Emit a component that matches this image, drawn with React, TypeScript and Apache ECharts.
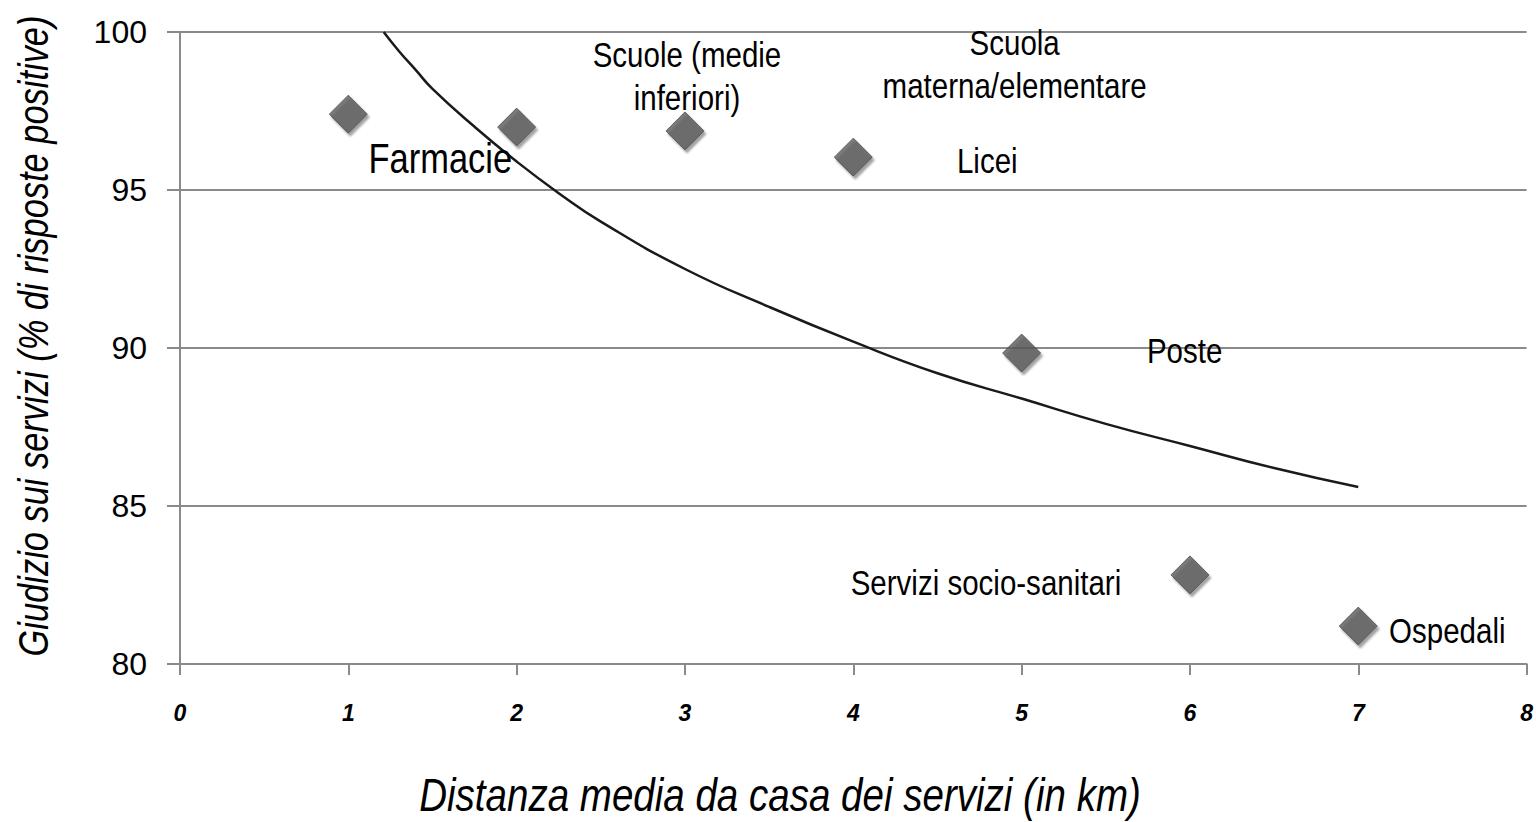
import React, { useEffect, useRef } from "react";
import * as echarts from "echarts";

const names = [
  "Farmacie",
  "Scuola\nmaterna/elementare",
  "Scuole (medie\ninferiori)",
  "Licei",
  "Poste",
  "Servizi socio-sanitari",
  "Ospedali",
];
const distances = [1, 2, 3, 4, 5, 6, 7];
const ratings = [97.4, 96.99, 96.87, 96.04, 89.84, 82.82, 81.2];

const trendX = [1.21, 1.3, 1.4, 1.5, 1.75, 2, 2.25, 2.5, 3, 3.5, 4, 4.5, 5, 5.5, 6, 6.5, 7];
const trendY = [100, 99.4, 98.8, 98.2, 97.0, 95.9, 94.9, 94.0, 92.5, 91.3, 90.2, 89.2, 88.4, 87.6, 86.9, 86.2, 85.6];

const xTicks = [0, 1, 2, 3, 4, 5, 6, 7, 8];
const yTicks = [80, 85, 90, 95, 100];

const xTitle = "Distanza media da casa dei servizi (in km)";
const yTitle = "Giudizio sui servizi (% di risposte positive)";

// label layout (pixel offsets from each marker centre)
const labelOffsets: [number, number][] = [
  [92, 44],
  [498, -63],
  [2, -55],
  [134, 3],
  [163, -3],
  [-204, 8],
  [89, 4],
];
const labelSizes = [42, 36, 36, 36, 36, 36, 36];

const FONT = "'Liberation Sans', Arial, sans-serif";
const NARROW = 0.82;

export default function App() {
  const ref = useRef<HTMLDivElement>(null);
  useEffect(() => {
    if (!ref.current) return;
    const chart = echarts.init(ref.current, null, { renderer: "svg" });
    const scatterData = distances.map((x, i) => ({ value: [x, ratings[i]], name: names[i] }));
    const trendData = trendX.map((x, i) => [x, trendY[i]]);
    chart.setOption({
      animation: false,
      backgroundColor: "#fff",
      grid: { left: 180, top: 32, right: 9, bottom: 158, containLabel: false },
      xAxis: {
        type: "value",
        min: xTicks[0],
        max: xTicks[xTicks.length - 1],
        interval: 1,
        axisLine: { show: true, lineStyle: { color: "#8a8a8a", width: 2 } },
        axisTick: { show: true, length: 11, lineStyle: { color: "#8a8a8a", width: 2 } },
        splitLine: { show: false },
        axisLabel: {
          margin: 37,
          color: "#000",
          fontSize: 23,
          fontStyle: "italic",
          fontWeight: "bold",
          fontFamily: FONT,
        },
      },
      yAxis: {
        type: "value",
        min: yTicks[0],
        max: yTicks[yTicks.length - 1],
        interval: 5,
        axisLine: { show: true, lineStyle: { color: "#8a8a8a", width: 2 } },
        axisTick: { show: true, length: 13, lineStyle: { color: "#8a8a8a", width: 2 } },
        splitLine: { show: true, lineStyle: { color: "#8a8a8a", width: 2 } },
        axisLabel: {
          margin: 33,
          color: "#000",
          fontSize: 32,
          fontFamily: FONT,
        },
      },
      series: [
        {
          type: "line",
          data: trendData,
          smooth: 0.5,
          showSymbol: false,
          symbol: "none",
          lineStyle: { color: "#1a1a1a", width: 2.5 },
          z: 2,
        },
        {
          type: "scatter",
          data: scatterData,
          symbol: "diamond",
          symbolSize: [38, 38],
          itemStyle: {
            color: "#5a5a5a",
            borderColor: "#4a4a4a",
            borderWidth: 1,
            shadowColor: "rgba(0,0,0,0.45)",
            shadowBlur: 2,
            shadowOffsetX: 2,
            shadowOffsetY: 3,
          },
          z: 3,
        },
      ],
    });

    const annotations = distances.map((x, i) => {
      const p = chart.convertToPixel({ gridIndex: 0 }, [x, ratings[i]]) as number[];
      return {
        type: "text",
        x: p[0] + labelOffsets[i][0],
        y: p[1] + labelOffsets[i][1],
        scaleX: NARROW,
        z: 10,
        style: {
          text: names[i],
          font: `${labelSizes[i]}px ${FONT}`,
          lineHeight: 43,
          fill: "#000",
          align: "center",
          verticalAlign: "middle",
        },
      };
    });

    chart.setOption({
      graphic: [
        {
          type: "text",
          x: 780,
          y: 795,
          scaleX: NARROW,
          style: {
            text: xTitle,
            font: `italic 47px ${FONT}`,
            fill: "#000",
            align: "center",
            verticalAlign: "middle",
          },
        },
        {
          type: "text",
          x: 33,
          y: 336,
          rotation: Math.PI / 2,
          scaleX: NARROW,
          style: {
            text: yTitle,
            font: `italic 42px ${FONT}`,
            fill: "#000",
            align: "center",
            verticalAlign: "middle",
          },
        },
        ...annotations,
      ],
    });
    return () => chart.dispose();
  }, []);
  return (
    <div
      ref={ref}
      style={{ position: "fixed", left: 0, top: 0, width: 1536, height: 822 }}
    />
  );
}
